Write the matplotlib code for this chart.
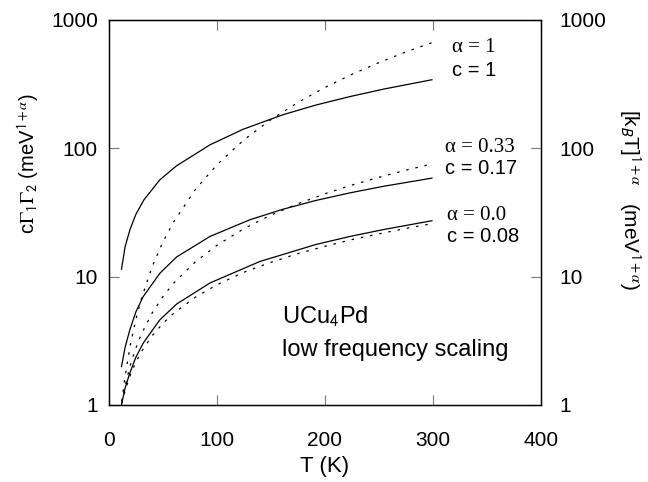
import matplotlib

matplotlib.use("Agg")
import matplotlib.pyplot as plt

plt.rcParams["font.family"] = ["Liberation Sans", "DejaVu Sans"]
plt.rcParams["mathtext.fontset"] = "stix"

# fitted curves c*Gamma1*Gamma2 (solid)
T_a1 = [11.7, 15, 19.4, 25, 32.5, 47.2, 62.7, 93.5, 124, 161, 192, 223, 254, 299]
fit_a1 = [11.4, 17, 23, 30.5, 39.6, 56.7, 72.9, 106, 140, 182, 217, 252, 288, 341]
T_a033 = [11.7, 15, 19.4, 25, 31.8, 47.2, 62.7, 93.5, 130.6, 161, 192, 223, 254, 299]
fit_a033 = [1.99, 2.8, 3.84, 5.3, 6.98, 10.6, 14.2, 20.5, 27.7, 33.4, 39.2, 44.8,
            50.4, 58.4]
T_a0 = [11.7, 15, 19.4, 25, 31.8, 47.2, 62.7, 93.5, 139.8, 192, 223, 254, 299]
fit_a0 = [1.0, 1.35, 1.77, 2.35, 3.03, 4.6, 6.1, 8.9, 13.1, 17.8, 20.5, 23.2, 27.2]

# [k_B T]^(1+alpha) (dotted)
T_kt = [12, 15, 20, 25, 30, 40, 50, 60, 80, 100, 125, 150, 175, 200, 225, 250, 275, 300]
kt_a1 = [1.07, 1.67, 2.97, 4.64, 6.68, 11.9, 18.6, 26.7, 47.5, 74.3, 116, 167, 227,
         297, 376, 464, 562, 668]
kt_a033 = [1.05, 1.41, 2.06, 2.77, 3.54, 5.19, 6.98, 8.89, 13.0, 17.5, 23.6, 30.1,
           36.9, 44.1, 51.6, 59.3, 67.4, 75.6]
kt_a0 = [1.03, 1.29, 1.72, 2.15, 2.59, 3.45, 4.31, 5.17, 6.89, 8.62, 10.8, 12.9,
         15.1, 17.2, 19.4, 21.5, 23.7, 25.9]

alpha_labels = ["α = 1", "α = 0.33", "α = 0.0"]
c_labels = ["c = 1", "c = 0.17", "c = 0.08"]
ticks_y = [1, 10, 100, 1000]
ticks_x = [0, 100, 200, 300, 400]

fig = plt.figure(figsize=(6.48, 4.82), dpi=100)
ax = fig.add_axes([0.168, 0.160, 0.667, 0.799])

dot = (0, (2, 5.5))
for T, y in ((T_a1, fit_a1), (T_a033, fit_a033), (T_a0, fit_a0)):
    ax.plot(T, y, "-", color="black", lw=0.9)
for y in (kt_a1, kt_a033, kt_a0):
    ax.plot(T_kt, y, color="black", lw=0.9, ls=dot)

ax.set_yscale("log")
ax.set_xlim(0, 400)
ax.set_ylim(1, 1000)
ax.set_xticks(ticks_x)
ax.set_yticks(ticks_y)
ax.set_yticklabels([str(t) for t in ticks_y])
ax.minorticks_off()
ax.tick_params(direction="in", length=7, width=0.8, color="#777777",
               labelsize=15, top=True)
ax.tick_params(axis="x", pad=19)
ax.tick_params(axis="y", pad=8)
for s in ax.spines.values():
    s.set_linewidth(1.0)

ax2 = ax.twinx()
ax2.set_yscale("log")
ax2.set_ylim(1, 1000)
ax2.set_yticks(ticks_y)
ax2.set_yticklabels([str(t) for t in ticks_y])
ax2.minorticks_off()
ax2.tick_params(direction="in", length=7, width=0.8, color="#777777",
                labelsize=15, pad=13)

ax.set_xlabel("T (K)", fontsize=16, labelpad=4)
# axis titles placed by pixel position, as in the original
fig.text(29 / 648, 1 - 163 / 482,
         r"c$\Gamma_{\mathsf{1}}\Gamma_{\mathsf{2}}$ (meV$^{\mathsf{1+}\alpha}$)",
         rotation=90, ha="center", va="center", fontsize=14.5)
fig.text(630 / 648, 1 - 200 / 482,
         r"[k$_{\mathsf{B}}$T]$^{\mathsf{1+}\alpha}$   (meV$^{\mathsf{1+}\alpha}$)",
         rotation=270, ha="center", va="center", fontsize=15)

# annotation positions in pixels
ann_x = [452, 445, 447]
ann_ya = [47, 148, 215]
ann_yc = [70, 169, 237]
for a, c, x, ya, yc in zip(alpha_labels, c_labels, ann_x, ann_ya, ann_yc):
    fig.text(x / 648, 1 - ya / 482, a, family="Liberation Serif", fontsize=15,
             ha="left", va="center")
    fig.text(x / 648, 1 - yc / 482, c, fontsize=14.5, ha="left", va="center")

fig.text(282 / 648, 1 - 317 / 482, r"UCu$_{\mathsf{4}}$Pd", fontsize=17,
         ha="left", va="center")
fig.text(282 / 648, 1 - 350 / 482, "low frequency scaling", fontsize=17,
         ha="left", va="center")

fig.savefig("out.png", dpi=100)
